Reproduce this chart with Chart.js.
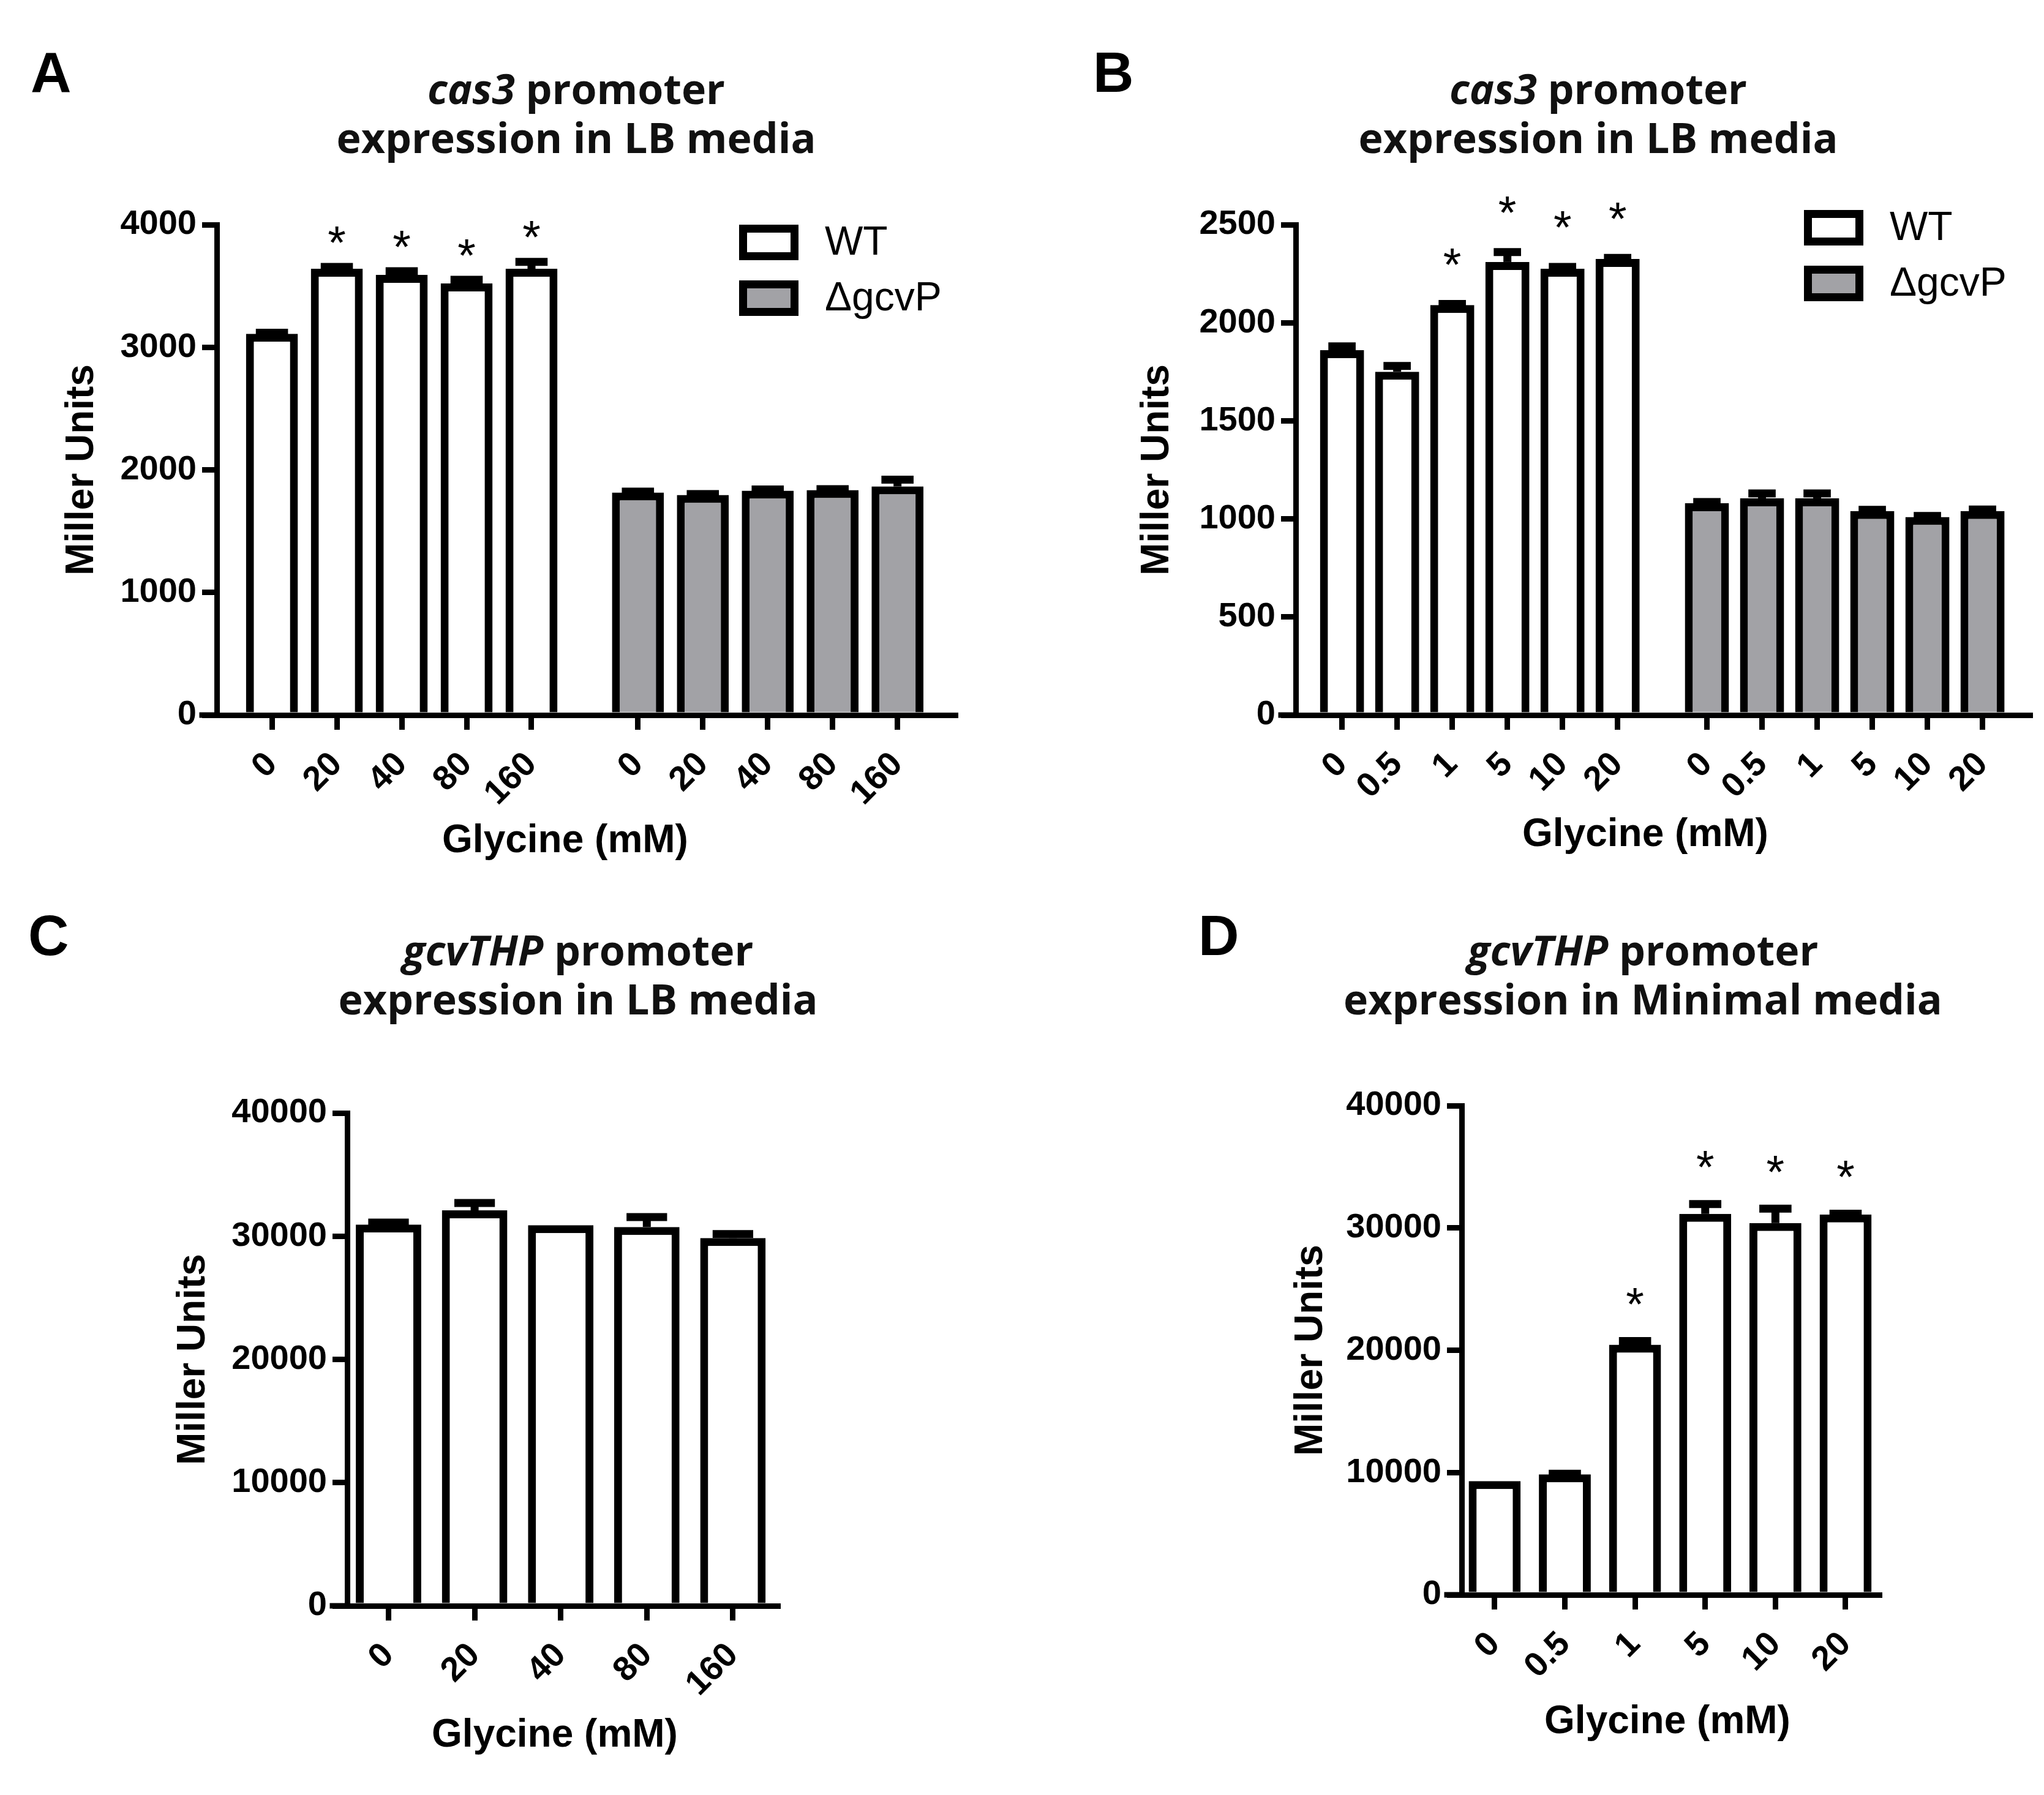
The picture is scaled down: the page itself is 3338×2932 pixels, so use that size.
<!DOCTYPE html>
<html>
<head>
<meta charset="utf-8">
<script src="https://cdn.jsdelivr.net/npm/chart.js@4.4.1/dist/chart.umd.min.js"></script>
<style>
  html, body { margin: 0; padding: 0; background: #fff; }
  #page { position: relative; width: 3338px; height: 2932px; overflow: hidden; background: #fff; }
  #page canvas { position: absolute; }
  .letter { position: absolute; font: bold 92px/100px "Liberation Sans", Arial, sans-serif; color: #000; }
  .ttl { position: absolute; width: 1200px; text-align: center; white-space: nowrap;
         font: 700 68px/80px "Open Sans", sans-serif; color: #111; }
  .legend { position: absolute; font: 66px/66px "Liberation Sans", Arial, sans-serif; color: #000; }
  .legend .row { position: absolute; left: 0; width: 500px; height: 80px; }
  .legend .box { position: absolute; left: 0; top: 7px; width: 97px; height: 58px; border: 13px solid #000; box-sizing: border-box; }
  .legend .txt { position: absolute; left: 140px; top: 0; white-space: nowrap; }
</style>
</head>
<body>
<div id="page">
  <div class="letter" style="left:50px;top:68px">A</div>
  <div class="ttl" style="left:341px;top:104px"><i>cas3</i> promoter<br>expression in LB media</div>
  <canvas id="chartA" width="1669" height="1216" style="left:0px;top:250px"></canvas>
  <div id="legendA" class="legend" style="left:1207px;top:360px"></div>

  <div class="letter" style="left:1785px;top:68px">B</div>
  <div class="ttl" style="left:2010px;top:104px"><i>cas3</i> promoter<br>expression in LB media</div>
  <canvas id="chartB" width="1669" height="1216" style="left:1669px;top:250px"></canvas>
  <div id="legendB" class="legend" style="left:2946px;top:336px"></div>

  <div class="letter" style="left:46px;top:1478px">C</div>
  <div class="ttl" style="left:344px;top:1511px"><i>gcvTHP</i> promoter<br>expression in LB media</div>
  <canvas id="chartC" width="1669" height="1232" style="left:0px;top:1700px"></canvas>

  <div class="letter" style="left:1957px;top:1478px">D</div>
  <div class="ttl" style="left:2083px;top:1511px"><i>gcvTHP</i> promoter<br>expression in Minimal media</div>
  <canvas id="chartD" width="1669" height="1232" style="left:1669px;top:1700px"></canvas>
</div>
<script>
// categories
var doseLB = ["0", "20", "40", "80", "160"];
var doseFine = ["0", "0.5", "1", "5", "10", "20"];
var seriesNames = ["WT", "\u0394gcvP"];

// A - cas3 promoter, LB, glycine 0-160 mM
var yTicksA = [0, 1000, 2000, 3000, 4000];
var wtA = [3110, 3640, 3590, 3520, 3640];
var wtErrA = [8, 15, 30, 30, 57];
var wtStarA = [0, 1, 1, 1, 1];
var mutA = [1815, 1795, 1830, 1835, 1865];
var mutErrA = [8, 8, 10, 8, 55];

// B - cas3 promoter, LB, glycine 0-20 mM
var yTicksB = [0, 500, 1000, 1500, 2000, 2500];
var wtB = [1860, 1750, 2090, 2310, 2275, 2325];
var wtErrB = [20, 30, 6, 50, 10, 6];
var wtStarB = [0, 0, 1, 1, 1, 1];
var mutB = [1080, 1105, 1105, 1040, 1010, 1040];
var mutErrB = [6, 25, 25, 6, 5, 8];

// C - gcvTHP promoter, LB
var yTicksCD = [0, 10000, 20000, 30000, 40000];
var gcvLB = [30950, 32100, 30900, 30750, 29850];
var gcvLBErr = [150, 600, 0, 800, 330];

// D - gcvTHP promoter, minimal media
var gcvMin = [9300, 9850, 20450, 31150, 30400, 31100];
var gcvMinErr = [0, 50, 300, 800, 1180, 60];
var gcvMinStar = [0, 0, 1, 1, 1, 1];

// styles
var fills = ["#ffffff", "#a2a2a6"];
var sansFamily = "'Liberation Sans', Arial, sans-serif";
var tickFont = { family: sansFamily, size: 56, weight: 'bold' };
var axisFont = { family: sansFamily, size: 64, weight: 'bold' };
var lineW = 9;
var barLine = 13;

function barPanel(id, p) {
	var n = p.labels.length;
	var xTickValues = [];
	var xTickText = [];
	var datasets = p.series.map(function (s, g) {
		var data = s.values.map(function (v, i) {
			var x = g * (n + p.gap) + i;
			xTickValues.push(x);
			xTickText.push(p.labels[i]);
			return { x: x, y: v };
		});
		return {
			label: s.name,
			data: data,
			errors: s.errors,
			stars: s.stars,
			backgroundColor: fills[g],
			borderColor: '#000',
			borderWidth: barLine,
			borderSkipped: 'start',
			grouped: false,
			categoryPercentage: 1,
			barPercentage: p.barFrac
		};
	});
	var lastX = xTickValues[xTickValues.length - 1];

	// error bars, asterisks, x title and the x-axis stub left of the y axis
	var marks = {
		id: 'marks',
		afterDatasetsDraw: function (chart) {
			var ctx = chart.ctx;
			var ys = chart.scales.y;
			chart.data.datasets.forEach(function (ds, di) {
				chart.getDatasetMeta(di).data.forEach(function (bar, i) {
					var e = ds.errors[i];
					var yTop = ys.getPixelForValue(ds.data[i].y + e);
					var half = bar.width * 0.31;
					ctx.save();
					ctx.strokeStyle = '#000';
					ctx.lineWidth = barLine;
					if (e > 0) {
						ctx.beginPath();
						ctx.moveTo(bar.x, bar.y);
						ctx.lineTo(bar.x, yTop);
						ctx.stroke();
						ctx.beginPath();
						ctx.moveTo(bar.x - half, yTop);
						ctx.lineTo(bar.x + half, yTop);
						ctx.stroke();
					}
					if (ds.stars && ds.stars[i]) {
						ctx.fillStyle = '#000';
						ctx.font = "76px " + sansFamily;
						ctx.textAlign = 'center';
						ctx.textBaseline = 'alphabetic';
						ctx.fillText('*', bar.x, yTop - barLine / 2 - p.starGap + 0.58 * 76);
					}
					ctx.restore();
				});
			});
		},
		afterDraw: function (chart) {
			var a = chart.chartArea;
			var ctx = chart.ctx;
			ctx.save();
			ctx.fillStyle = '#000';
			ctx.fillRect(a.left - 28.5, a.bottom - lineW / 2, 28.5, lineW);
			ctx.font = 'bold 64px ' + sansFamily;
			ctx.textAlign = 'center';
			ctx.textBaseline = 'middle';
			ctx.fillText('Glycine (mM)', p.xTitle[0], p.xTitle[1]);
			ctx.restore();
		}
	};

	var gridOpts = { display: true, drawOnChartArea: false, drawTicks: true, tickLength: 24, lineWidth: lineW, color: '#000', offset: false };
	var borderOpts = { display: true, width: lineW, color: '#000', z: 1 };

	return new Chart(document.getElementById(id), {
		type: 'bar',
		data: { datasets: datasets },
		plugins: [marks],
		options: {
			responsive: false,
			animation: false,
			devicePixelRatio: 1,
			events: [],
			layout: { padding: { left: 0, top: p.padTop, right: p.padRight, bottom: 0 } },
			plugins: { legend: { display: false }, tooltip: { enabled: false } },
			scales: {
				x: {
					type: 'linear',
					min: -p.padL,
					max: lastX + p.padR,
					offset: false,
					afterBuildTicks: function (sc) {
						sc.ticks = xTickValues.map(function (v) { return { value: v }; });
					},
					afterFit: function (sc) { sc.height = p.xH; },
					ticks: {
						autoSkip: false, minRotation: 45, maxRotation: 45, padding: 24,
						color: '#000', font: tickFont,
						callback: function (v, i) { return xTickText[i]; }
					},
					grid: gridOpts,
					border: borderOpts
				},
				y: {
					type: 'linear',
					min: p.yTicks[0],
					max: p.yTicks[p.yTicks.length - 1],
					afterBuildTicks: function (sc) {
						sc.ticks = p.yTicks.map(function (v) { return { value: v }; });
					},
					afterFit: function (sc) { sc.width = p.yW; },
					ticks: { padding: 9, color: '#000', font: tickFont, callback: function (v) { return String(v); } },
					grid: gridOpts,
					border: borderOpts,
					title: { display: true, text: 'Miller Units', color: '#000', font: axisFont, padding: { top: p.yTitlePad, bottom: 0 } }
				}
			}
		}
	});
}

function legend(id, names) {
	var el = document.getElementById(id);
	names.forEach(function (name, i) {
		var row = document.createElement('div');
		row.className = 'row';
		row.style.top = (i * 91) + 'px';
		var box = document.createElement('div');
		box.className = 'box';
		box.style.background = fills[i];
		var txt = document.createElement('div');
		txt.className = 'txt';
		txt.textContent = name;
		row.appendChild(box);
		row.appendChild(txt);
		el.appendChild(row);
	});
}

barPanel('chartA', {
	labels: doseLB, yTicks: yTicksA,
	series: [
		{ name: seriesNames[0], values: wtA, errors: wtErrA, stars: wtStarA },
		{ name: seriesNames[1], values: mutA, errors: mutErrA }
	],
	gap: 0.64, padL: 0.85, padR: 0.89, barFrac: 0.80, starGap: 52,
	yW: 354, padTop: 117, padRight: 109, xH: 298, yTitlePad: 95.6, xTitle: [923, 1124]
});
legend('legendA', seriesNames);

barPanel('chartB', {
	labels: doseFine, yTicks: yTicksB,
	series: [
		{ name: seriesNames[0], values: wtB, errors: wtErrB, stars: wtStarB },
		{ name: seriesNames[1], values: mutB, errors: mutErrB }
	],
	gap: 0.62, padL: 0.84, padR: 0.86, barFrac: 0.80, starGap: 76,
	yW: 447, padTop: 117, padRight: 23, xH: 298, yTitlePad: 182.6, xTitle: [1018, 1114]
});
legend('legendB', seriesNames);

barPanel('chartC', {
	labels: doseLB, yTicks: yTicksCD,
	series: [ { name: seriesNames[0], values: gcvLB, errors: gcvLBErr } ],
	gap: 0, padL: 0.48, padR: 0.52, barFrac: 0.76, starGap: 72,
	yW: 567, padTop: 118, padRight: 399, xH: 309, yTitlePad: 277.6, xTitle: [906, 1135]
});

barPanel('chartD', {
	labels: doseFine, yTicks: yTicksCD,
	series: [ { name: seriesNames[0], values: gcvMin, errors: gcvMinErr, stars: gcvMinStar } ],
	gap: 0, padL: 0.47, padR: 0.48, barFrac: 0.74, starGap: 72,
	yW: 718, padTop: 106, padRight: 269, xH: 327, yTitlePad: 433.6, xTitle: [1054, 1113]
});
</script>
</body>
</html>
